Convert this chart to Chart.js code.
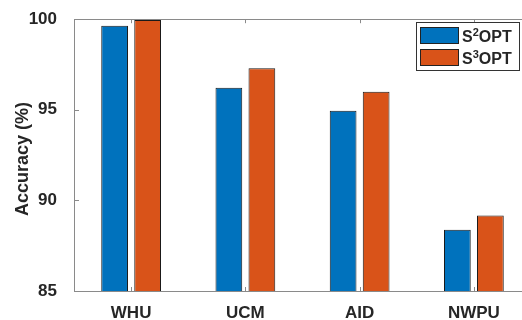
<!DOCTYPE html>
<html>
<head>
<meta charset="utf-8">
<script src="https://cdn.jsdelivr.net/npm/chart.js@4/dist/chart.umd.min.js"></script>
<style>
html,body{margin:0;padding:0;background:#fff;overflow:hidden;width:522px;height:320px;}
#wrap{position:relative;width:535px;height:320px;}
</style>
</head>
<body>
<div id="wrap"><canvas id="c" width="535" height="320"></canvas></div>
<script>
const categories = ["WHU", "UCM", "AID", "NWPU"];
const seriesNames = ["S\u00B2OPT", "S\u00B3OPT"];
const seriesParts = [["S", "2", "OPT"], ["S", "3", "OPT"]];
const s2opt = [99.64, 96.21, 94.95, 88.38];
const s3opt = [99.96, 97.29, 95.99, 89.16];
const yTicks = [85, 90, 95, 100];
const yTitle = "Accuracy (%)";
const colors = ["#0072BD", "#D95319"];
const axisColor = "#8a8a8a";
const textColor = "#262626";
const FONT = "'Liberation Sans', Arial, sans-serif";

const extras = {
  id: "extras",
  afterDatasetsDraw(chart) {
    const ctx = chart.ctx;
    const a = chart.chartArea;
    const x = chart.scales.x, y = chart.scales.y;
    ctx.save();
    ctx.strokeStyle = axisColor;
    ctx.lineWidth = 1;
    ctx.beginPath();
    ctx.moveTo(a.left, Math.round(a.top) + 0.5);
    ctx.lineTo(a.right, Math.round(a.top) + 0.5);
    ctx.stroke();
    yTicks.forEach(v => {
      const py = Math.round(y.getPixelForValue(v)) + 0.5;
      ctx.beginPath();
      ctx.moveTo(a.left, py);
      ctx.lineTo(a.left + 5, py);
      ctx.stroke();
    });
    categories.forEach((c, i) => {
      const px = Math.round(x.getPixelForValue(i)) + 0.5;
      ctx.beginPath();
      ctx.moveTo(px, a.bottom);
      ctx.lineTo(px, a.bottom - 4);
      ctx.moveTo(px, a.top);
      ctx.lineTo(px, a.top + 4);
      ctx.stroke();
    });
    // y title
    ctx.save();
    ctx.translate(23, 159);
    ctx.rotate(-Math.PI / 2);
    ctx.fillStyle = textColor;
    ctx.font = "bold 18px " + FONT;
    ctx.textAlign = "center";
    ctx.textBaseline = "middle";
    ctx.fillText(yTitle, 0, 0);
    ctx.restore();
    // legend
    const bx = 416.5, by = 22.5, bw = 103, bh = 48;
    ctx.fillStyle = "#fff";
    ctx.fillRect(bx, by, bw, bh);
    ctx.strokeStyle = "#333";
    ctx.strokeRect(bx, by, bw, bh);
    chart.data.datasets.forEach((ds, i) => {
      const sy = 27 + i * 22;
      ctx.fillStyle = ds.backgroundColor;
      ctx.fillRect(420, sy, 39, 17);
      ctx.strokeStyle = "#222";
      ctx.strokeRect(420.5, sy + 0.5, 38, 16);
      ctx.fillStyle = textColor;
      ctx.textBaseline = "alphabetic";
      ctx.textAlign = "left";
      const p = seriesParts[i];
      const base = sy + 15;
      let tx = 462;
      ctx.font = "bold 16px " + FONT;
      ctx.fillText(p[0], tx, base);
      tx += ctx.measureText(p[0]).width;
      ctx.font = "bold 11px " + FONT;
      ctx.fillText(p[1], tx, base - 6);
      tx += ctx.measureText(p[1]).width;
      ctx.font = "bold 16px " + FONT;
      ctx.fillText(p[2], tx, base);
    });
    ctx.restore();
  }
};

new Chart(document.getElementById("c"), {
  type: "bar",
  data: {
    labels: categories,
    datasets: [
      { label: seriesNames[0], data: s2opt, backgroundColor: colors[0], borderColor: "#1a1a1a", borderWidth: 1 },
      { label: seriesNames[1], data: s3opt, backgroundColor: colors[1], borderColor: "#1a1a1a", borderWidth: 1 }
    ]
  },
  options: {
    responsive: false,
    animation: false,
    devicePixelRatio: 1,
    categoryPercentage: 0.578,
    barPercentage: 0.81,
    layout: { padding: { top: 14, right: 4, left: 0, bottom: 0 } },
    plugins: { legend: { display: false }, tooltip: { enabled: false } },
    scales: {
      x: {
        grid: { display: false },
        border: { color: axisColor, width: 1 },
        ticks: { color: textColor, font: { family: FONT, size: 17, weight: "bold" }, padding: 4 },
        afterFit(s) { s.height = 29; }
      },
      y: {
        min: 85, max: 100,
        afterBuildTicks(s) { s.ticks = yTicks.map(v => ({ value: v })); },
        grid: { display: false },
        border: { color: axisColor, width: 1 },
        ticks: { color: textColor, font: { family: FONT, size: 17, weight: "bold" }, padding: 9 },
        title: { display: false },
        afterFit(s) { s.width = 74; }
      }
    }
  },
  plugins: [extras]
});
</script>
</body>
</html>
